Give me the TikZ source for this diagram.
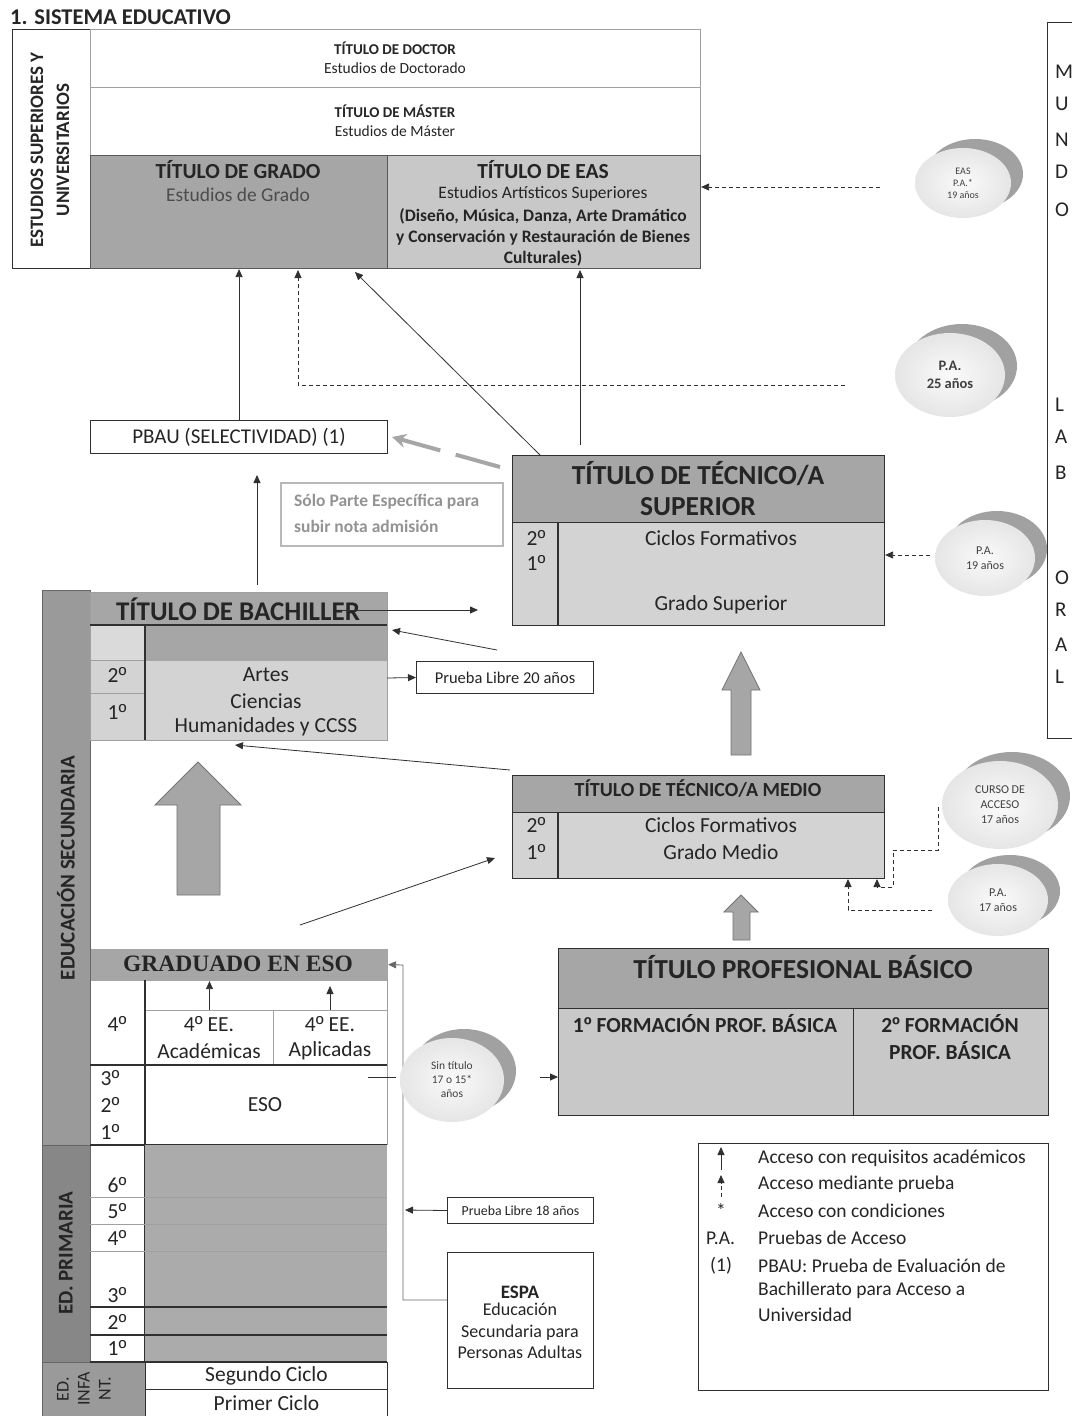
\documentclass[tikz,border=0pt]{standalone}
\usepackage{fontspec}
\setmainfont{Carlito}
\newfontfamily\tnr{Liberation Serif}
\newfontfamily\lsans{Liberation Sans}
\newcommand\ordo{{\lsans º}}
\usetikzlibrary{arrows.meta,shapes.geometric}
\definecolor{dk}{HTML}{A6A6A6}
\definecolor{lt}{HTML}{D3D3D3}
\definecolor{easc}{HTML}{C8C8C8}
\definecolor{secc}{HTML}{9A9A9A}
\definecolor{pric}{HTML}{878787}
\definecolor{primf}{HTML}{ABABAB}
\definecolor{txt}{HTML}{252525}
\definecolor{ln}{HTML}{303030}
\definecolor{lgray}{HTML}{A0A0A0}
\newcommand\fs[2]{\fontsize{#1}{#2}\selectfont}
\newcommand\pac[7]{%
  \fill[black!37] (#2+12,#3-9) ellipse [x radius=#4pt, y radius=#5pt];
  \node[ellipse, minimum width=2*#4pt, minimum height=2*#5pt, inner sep=0pt,
        shade, inner color=gray!4, outer color=gray!20, align=center,
        text=black!75, font=#6] (#1) at (#2,#3) {#7};}
\begin{document}
\begin{tikzpicture}[x=1pt,y=-1pt,
  box/.style={draw=ln, line width=1.1pt, inner sep=0pt, anchor=north west},
  lbox/.style={draw=lgray, line width=1pt, inner sep=0pt, anchor=north west},
  arr/.style={draw=ln, line width=0.8pt, -{Triangle[length=8pt,width=7pt]}},
  darr/.style={arr, dash pattern=on 4pt off 3pt},
  dline/.style={draw=ln, line width=0.9pt, dash pattern=on 4pt off 3pt},
  t/.style={text=txt, inner sep=0pt},
  body/.style={t, font=\fs{21.5}{25}},
  bigarrow/.style={fill=dk, draw=black!55, line width=0.8pt},
]
\path[use as bounding box] (0,0) rectangle (1071,1416);
\fill[white] (0,0) rectangle (1071,1416);

% title
\node[t, anchor=west, font=\bfseries\fs{22.5}{26}] (title) at (10,17) {1. SISTEMA EDUCATIVO};

% right cut box
\node[box, minimum width=40pt, minimum height=716pt] (mundo) at (1047,22) {};
\foreach \l/\y in {M/72,U/104,N/140,D/172,O/210,L/405,A/437,B/473,O/578,R/610,A/645,L/677}
  \node[t, anchor=west, font=\fs{21}{24}] at (1055,\y) {\l};

% ===== top block
\node[box, minimum width=78pt, minimum height=239pt] (supl) at (12,29) {};
\node[t, rotate=90, align=center, font=\bfseries\fs{19}{26}] (supltxt) at (50,150) {ESTUDIOS SUPERIORES Y\\UNIVERSITARIOS};
\node[lbox, minimum width=610pt, minimum height=58pt] (doctor) at (90,29) {};
\node[lbox, minimum width=610pt, minimum height=68pt] (master) at (90,87) {};
\node[box, draw=ln!80, fill=dk, minimum width=297pt, minimum height=113pt] (grado) at (90,155) {};
\node[box, draw=ln!80, fill=easc, minimum width=313pt, minimum height=113pt] (eas) at (387,155) {};
\node[t, font=\bfseries\fs{15}{18}] at (395,48) {TÍTULO DE DOCTOR};
\node[t, font=\fs{15.5}{18}] at (395,68) {Estudios de Doctorado};
\node[t, font=\bfseries\fs{15}{18}] at (395,111) {TÍTULO DE MÁSTER};
\node[t, font=\fs{15.5}{18}] at (395,131) {Estudios de Máster};
\node[t, font=\bfseries\fs{21.5}{25}] at (238,170) {TÍTULO DE GRADO};
\node[t, font=\fs{19.5}{23}, text=black!70] at (238,195) {Estudios de Grado};
\node[t, font=\bfseries\fs{21.5}{25}] at (543,170) {TÍTULO DE EAS};
\node[t, font=\fs{17.5}{20}] at (543,194) {Estudios Artísticos Superiores};
\node[t, font=\bfseries\fs{17.5}{20}] at (543,216) {(Diseño, Música, Danza, Arte Dramático};
\node[t, font=\bfseries\fs{17.5}{20}] at (543,238) {y Conservación y Restauración de Bienes};
\node[t, font=\bfseries\fs{17.5}{20}] at (543,258) {Culturales)};

% ===== PBAU
\node[box, minimum width=297pt, minimum height=33pt] (pbau) at (90,420) {};
\node[t, font=\fs{21}{24}] at (pbau.center) {PBAU (SELECTIVIDAD) (1)};
\node[box, draw=gray!55, line width=1.8pt, minimum width=222pt, minimum height=63pt] (solo) at (280,482) {};
\node[t, text=gray!85, font=\bfseries\fs{17.5}{26}, align=left, anchor=west] at (294,513) {Sólo Parte Específica para\\subir nota admisión};

% ===== Tecnico superior
\node[box, fill=dk, minimum width=372pt, minimum height=67pt] (tsh) at (512,455) {};
\node[box, fill=lt, minimum width=372pt, minimum height=103pt] (tsb) at (512,522) {};
\draw[ln, line width=1.1pt] (558,522) -- (558,625);
\node[t, font=\bfseries\fs{27.5}{31}] at (698,474) {TÍTULO DE TÉCNICO/A};
\node[t, font=\bfseries\fs{27.5}{31}] at (698,507) {SUPERIOR};
\node[body] at (536,538) {2\ordo};
\node[body] at (536,563) {1\ordo};
\node[body] at (721,538) {Ciclos Formativos};
\node[body] at (721,605) {Grado Superior};

% ===== left strips
\node[box, draw=black!60, fill=secc, minimum width=48pt, minimum height=555pt] (secstrip) at (42,590) {};
\node[t, rotate=90, font=\bfseries\fs{21}{24}] at (66,868) {EDUCACIÓN SECUNDARIA};
\node[box, draw=black!60, fill=pric, minimum width=48pt, minimum height=217pt] (pristrip) at (42,1145) {};
\node[t, rotate=90, font=\bfseries\fs{21}{24}] at (66,1253) {ED. PRIMARIA};
\node[box, draw=black!60, fill=secc, minimum width=103pt, minimum height=54pt] (infstrip) at (42,1362) {};
\node[t, rotate=90, align=center, font=\fs{18}{21}] at (84,1389) {ED.\\INFA\\NT.};

% ===== Bachiller
\node[box, draw=none, fill=dk, minimum width=297pt, minimum height=33pt] (bh) at (90,592) {};
\node[box, draw=none, fill=lt!85, minimum width=55pt, minimum height=35pt] (by0) at (90,625) {};
\node[box, draw=none, fill=dk, minimum width=242pt, minimum height=35pt] (bb0) at (145,625) {};
\node[box, draw=none, fill=lt, minimum width=297pt, minimum height=80pt] (bb) at (90,660) {};
\draw[lgray, line width=1pt] (90,592) rectangle (387,740);
\draw[lgray, line width=1pt] (90,660) -- (145,660) (90,693) -- (145,693);
\draw[ln, line width=1.1pt] (90,625) -- (387,625) (145,625) -- (145,740);
\node[t, font=\bfseries\fs{27}{31}] at (238,609) {TÍTULO DE BACHILLER};
\node[body] at (117,675) {2\ordo};
\node[body] at (117,712) {1\ordo};
\node[body] at (266,675) {Artes};
\node[body] at (266,701) {Ciencias};
\node[body] at (266,727) {Humanidades y CCSS};
\node[box, line width=1pt, minimum width=177pt, minimum height=32pt] (pl20) at (416,661) {};
\node[t, font=\fs{16.5}{19}] at (pl20.center) {Prueba Libre 20 años};

% ===== Tecnico medio
\node[box, fill=dk, minimum width=372pt, minimum height=37pt] (tmh) at (512,775) {};
\node[box, fill=lt, minimum width=372pt, minimum height=66pt] (tmb) at (512,812) {};
\draw[ln, line width=1.1pt] (558,812) -- (558,878);
\node[t, font=\bfseries\fs{20}{23}] at (698,789) {TÍTULO DE TÉCNICO/A MEDIO};
\node[body] at (536,825) {2\ordo};
\node[body] at (536,852) {1\ordo};
\node[body] at (721,825) {Ciclos Formativos};
\node[body] at (721,852) {Grado Medio};

% ===== Graduado ESO
\node[box, draw=none, fill=dk, minimum width=297pt, minimum height=32pt] (geh) at (90,948) {};
\node[t, font=\tnr\bfseries\fs{23.5}{26}] at (238,964) {GRADUADO EN ESO};
\node[box, draw=lgray, line width=1pt, minimum width=128pt, minimum height=55pt] (acad) at (145,1010) {};
\node[box, draw=lgray, line width=1pt, minimum width=114pt, minimum height=55pt] (apli) at (273,1010) {};
\draw[lgray, line width=1pt] (387,980) -- (387,1145);
\draw[ln, line width=1.1pt] (145,980) -- (145,1362) (90,1065) -- (387,1065) (90,1145) -- (387,1145);
\node[body] at (117,1024) {4\ordo};
\node[body] at (209,1024) {4\ordo{} EE.};
\node[body] at (209,1051) {Académicas};
\node[body] at (330,1024) {4\ordo{} EE.};
\node[body] at (330,1051) {Aplicadas};
\node[body] at (110,1078) {3\ordo};
\node[body] at (110,1105) {2\ordo};
\node[body] at (110,1132) {1\ordo};
\node[body] at (265,1105) {ESO};
\draw[arr] (acad.north) -- (acad.north |- geh.south);
\draw[arr] (330,1010) -- (330,986);

% ===== Primaria
\fill[primf] (145,1145) rectangle (387,1362);
\draw[lgray, line width=1pt] (90,1197) -- (387,1197) (90,1224) -- (387,1224) (90,1251) -- (387,1251);
\draw[ln, line width=1.1pt] (90,1307) -- (387,1307) (90,1335) -- (387,1335) (90,1362) -- (387,1362);
\foreach \n/\y in {6/1185,5/1211,4/1238,3/1295,2/1322,1/1348}
  \node[body] at (117,\y) {\n\ordo};
\node[box, line width=1pt, minimum width=242pt, minimum height=27pt] (seg) at (145,1362) {};
\node[box, line width=1pt, minimum width=242pt, minimum height=27pt] (primc) at (145,1389) {};
\node[body] at (seg.center) {Segundo Ciclo};
\node[body] at (primc.center) {Primer Ciclo};

% ===== ESPA and pruebas
\node[box, line width=1pt, minimum width=146pt, minimum height=26pt] (pl18) at (447,1197) {};
\node[t, font=\fs{13.8}{16}] at (pl18.center) {Prueba Libre 18 años};
\node[box, line width=1pt, minimum width=146pt, minimum height=136pt] (espa) at (447,1252) {};
\node[t, font=\bfseries\fs{19}{22}] at (520,1292) {ESPA};
\node[t, align=center, font=\fs{18}{21.5}, anchor=north] at (520,1303) {Educación\\Secundaria para\\Personas Adultas};
\draw[arr, draw=black!60] (447,1300) -- (403,1300) -- (403,965) -- (geh.east);
\draw[arr] (pl18.west) -- (405,1210);

% ===== Profesional basico
\node[box, fill=dk, minimum width=490pt, minimum height=60pt] (pbh) at (558,948) {};
\node[box, fill=lt!95!black, minimum width=295pt, minimum height=107pt] (pb1) at (558,1008) {};
\node[box, fill=lt!95!black, minimum width=195pt, minimum height=107pt] (pb2) at (853,1008) {};
\node[t, font=\bfseries\fs{27.5}{31}] at (803,967) {TÍTULO PROFESIONAL BÁSICO};
\node[t, font=\bfseries\fs{21.5}{25}] at (705,1024) {1\ordo{} FORMACIÓN PROF. BÁSICA};
\node[t, font=\bfseries\fs{21.5}{27}, align=center] at (950,1037) {2\ordo{} FORMACIÓN\\PROF. BÁSICA};

% ===== big arrows
\draw[bigarrow] (177,895) -- (220,895) -- (220,805) -- (241,805) -- (198,762) -- (155,805) -- (177,805) -- cycle;
\draw[bigarrow] (731,755) -- (751,755) -- (751,690) -- (760,690) -- (741,652) -- (722,690) -- (731,690) -- cycle;
\draw[bigarrow] (733,940) -- (750,940) -- (750,912) -- (758,912) -- (741,895) -- (724,912) -- (733,912) -- cycle;

% ===== connectors
\draw[arr] (pbau.north) -- (pbau.north |- grado.south);
\draw[darr] (845,385) -- (298,385) -- (298,270);
\draw[arr] (540,455) -- (355,272);
\draw[arr] (580,445) -- (580,270);
\draw[darr] (880,187) -- (eas.east |- 0,187);
\draw[arr] (257,585) -- (257,475);
\draw[draw=gray!70, line width=4pt, dash pattern=on 46pt off 16pt on 80pt, -{Stealth[length=14pt,width=14pt]}] (500,467) -- (392,437);
\draw[arr] (340,610) -- (478,610);
\draw[arr] (497,650) -- (392,630);
\draw[arr] (387,678) -- (pl20.west);
\draw[arr] (510,770) -- (235,745);
\draw[arr] (300,925) -- (495,858);
\draw[darr] (930,555) -- (tsb.east |- 0,555);
\draw[dline] (938,807) -- (938,850) -- (893,850) -- (893,887) -- (877,887);
\draw[darr] (877,887) -- (877,879);
\draw[darr] (932,910) -- (848,910) -- (848,879);
\draw[ln, line width=1pt] (368,1077) -- (396,1077);
\draw[arr] (540,1077) -- (pb1.west |- 0,1077);

% ===== circles
\pac{eas19}{963}{183}{48}{35}{\fs{10}{12}}{EAS\\P.A.*\\19 años}
\pac{pa25}{950}{375}{55}{42}{\bfseries\fs{14.5}{18}}{P.A.\\25 años}
\pac{pa19}{985}{558}{50}{38}{\fs{12}{15}}{P.A.\\19 años}
\pac{curso}{1000}{805}{58}{44}{\fs{12}{15}}{CURSO DE\\ACCESO\\17 años}
\pac{pa17}{998}{900}{50}{36}{\fs{12}{15}}{P.A.\\17 años}
\pac{sint}{452}{1080}{52}{42}{\fs{11.5}{14}}{Sin título\\17 o 15*\\años}

% ===== legend
\node[box, line width=1pt, minimum width=350pt, minimum height=247pt] (legend) at (698,1143) {};
\draw[arr] (721,1170) -- (721,1147);
\draw[darr] (721,1197) -- (721,1175);
\node[t, font=\fs{19.5}{22}] at (721,1211) {*};
\node[t, anchor=west, font=\fs{19.5}{22}] at (706,1238) {P.A.};
\node[t, anchor=west, font=\fs{19.5}{22}] at (710,1266) {(1)};
\foreach \s/\y in {Acceso con requisitos académicos/1158, Acceso mediante prueba/1184, Acceso con condiciones/1211, Pruebas de Acceso/1238, PBAU: Prueba de Evaluación de/1266, Bachillerato para Acceso a/1290, Universidad/1315}
  \node[t, anchor=west, font=\fs{19.5}{22}] at (758,\y) {\s};
\end{tikzpicture}
\end{document}
